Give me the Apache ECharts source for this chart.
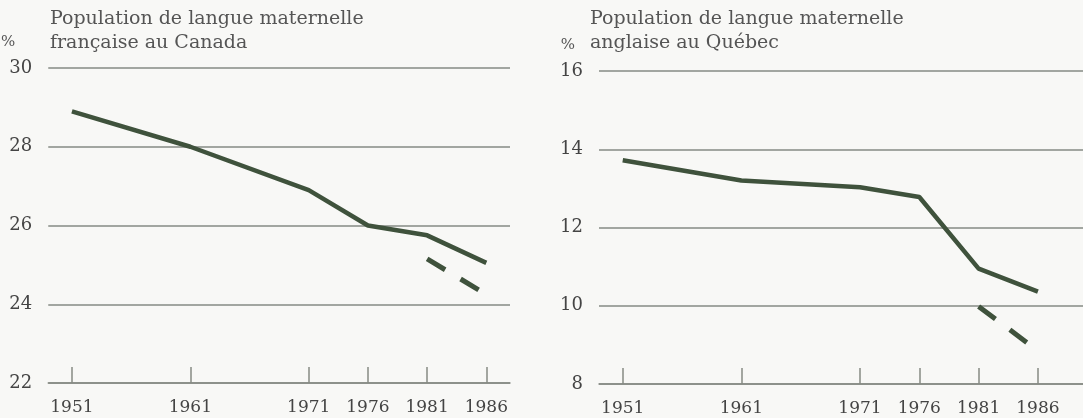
<!DOCTYPE html>
<html>
<head>
<meta charset="utf-8">
<script src="https://cdn.jsdelivr.net/npm/echarts@6/dist/echarts.min.js"></script>
<style>
    html, body { margin: 0; padding: 0; background: #f8f8f6; }
    #main { width: 1083px; height: 418px; }
</style>
</head>
<body>
<div id="main"></div>
<script>
// années du recensement
var years = [1951, 1961, 1971, 1976, 1981, 1986];
// % langue maternelle française au Canada
var frCanada = [28.9, 28.0, 26.9, 26.0, 25.75, 25.05];
var frCanadaDash = [[1981, 25.15], [1986, 24.25]];
// % langue maternelle anglaise au Québec
var enQuebec = [13.72, 13.2, 13.03, 12.78, 10.95, 10.36];
var enQuebecDash = [[1981, 9.98], [1986, 8.85]];

var lineColor = '#3f523c';
var gridColor = '#868b84';
var font = '"DejaVu Serif", "Liberation Serif", serif';

function pairs(vals) {
    return years.map(function (y, i) { return [y, vals[i]]; });
}

function xAxisOf(idx, max) {
    return {
        type: 'value', gridIndex: idx, min: 1949, max: max,
        splitLine: { show: false },
        axisLine: { show: true, lineStyle: { color: gridColor, width: 1.5 } },
        axisTick: { show: true, inside: true, length: 16, customValues: years,
                    lineStyle: { color: gridColor, width: 1.5 } },
        axisLabel: { customValues: years, color: '#444', fontFamily: font, fontSize: 17, margin: 16,
                     formatter: function (v) { return String(v); } }
    };
}

function yAxisOf(idx, min, max, pctPad) {
    return {
        type: 'value', gridIndex: idx, min: min, max: max, interval: 2,
        name: '%', nameLocation: 'end', nameGap: 18,
        nameTextStyle: { color: '#555', fontFamily: font, fontSize: 15, align: 'right', padding: [0, pctPad, 0, 0] },
        axisLine: { show: false }, axisTick: { show: false },
        splitLine: { lineStyle: { color: gridColor, width: 1.5 } },
        axisLabel: { color: '#444', fontFamily: font, fontSize: 18, margin: 16 }
    };
}

var titleStyle = { color: '#555', fontFamily: font, fontSize: 19, fontWeight: 'normal', lineHeight: 24 };

var option = {
    backgroundColor: '#f8f8f6',
    animation: false,
    title: [
        { text: 'Population de langue maternelle\nfrançaise au Canada', left: 50, top: 7, padding: 0, textStyle: titleStyle },
        { text: 'Population de langue maternelle\nanglaise au Québec', left: 590, top: 7, padding: 0, textStyle: titleStyle }
    ],
    grid: [
        { left: 47, right: 573, top: 68, bottom: 35 },
        { left: 599, right: 0, top: 71, bottom: 34 }
    ],
    xAxis: [xAxisOf(0, 1988), xAxisOf(1, 1989.8)],
    yAxis: [yAxisOf(0, 22, 30, 33), yAxisOf(1, 8, 16, 24)],
    series: [
        { type: 'line', xAxisIndex: 0, yAxisIndex: 0, data: pairs(frCanada), symbol: 'none',
          lineStyle: { color: lineColor, width: 4.5 } },
        { type: 'line', xAxisIndex: 0, yAxisIndex: 0, data: frCanadaDash, symbol: 'none',
          lineStyle: { color: lineColor, width: 5, type: [21, 18] } },
        { type: 'line', xAxisIndex: 1, yAxisIndex: 1, data: pairs(enQuebec), symbol: 'none',
          lineStyle: { color: lineColor, width: 4.5 } },
        { type: 'line', xAxisIndex: 1, yAxisIndex: 1, data: enQuebecDash, symbol: 'none',
          lineStyle: { color: lineColor, width: 5, type: [21, 18] } }
    ]
};

var myChart = echarts.init(document.getElementById('main'));
myChart.setOption(option);
</script>
</body>
</html>
